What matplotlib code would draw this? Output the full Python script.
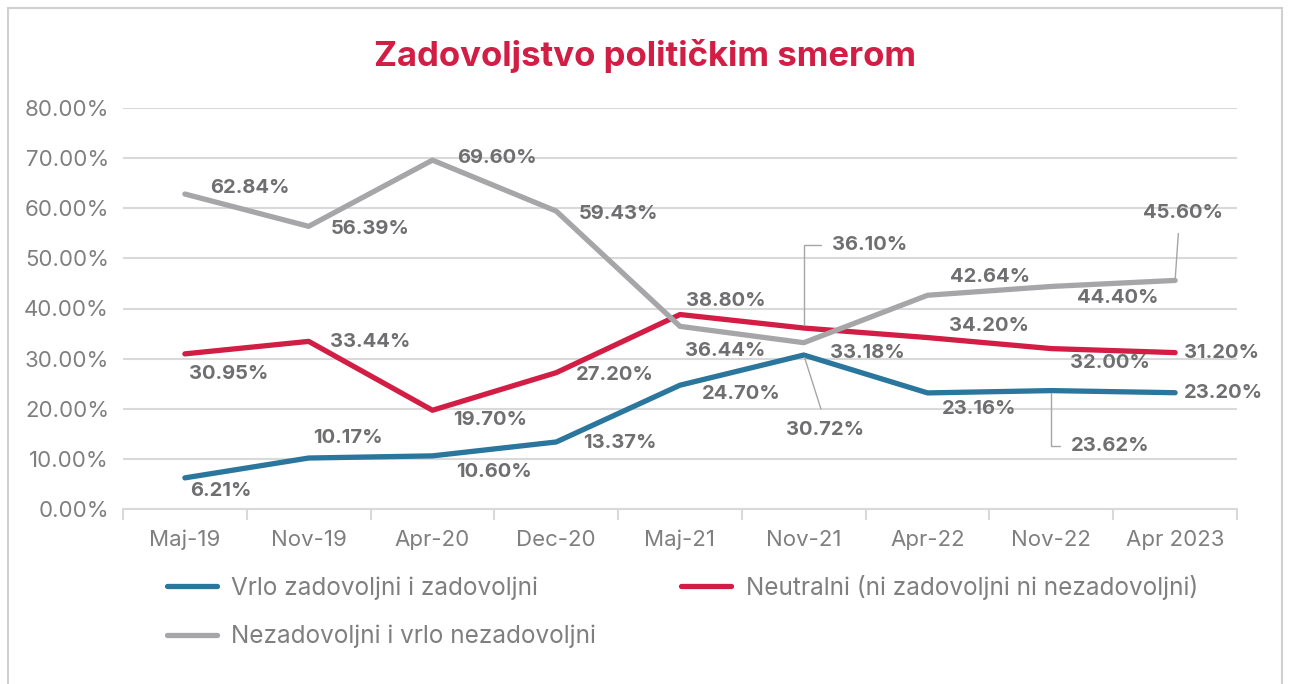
import matplotlib

matplotlib.use("Agg")
import matplotlib.pyplot as plt  # noqa: E402
from matplotlib.patches import Rectangle  # noqa: E402

periods = ["Maj-19", "Nov-19", "Apr-20", "Dec-20", "Maj-21", "Nov-21", "Apr-22", "Nov-22", "Apr 2023"]
satisfied = [6.21, 10.17, 10.60, 13.37, 24.70, 30.72, 23.16, 23.62, 23.20]
neutral = [30.95, 33.44, 19.70, 27.20, 38.80, 36.10, 34.20, 32.00, 31.20]
dissatisfied = [62.84, 56.39, 69.60, 59.43, 36.44, 33.18, 42.64, 44.40, 45.60]
names = ["Vrlo zadovoljni i zadovoljni",
         "Neutralni (ni zadovoljni ni nezadovoljni)",
         "Nezadovoljni i vrlo nezadovoljni"]
y_ticks = [0, 10, 20, 30, 40, 50, 60, 70, 80]
title = "Zadovoljstvo političkim smerom"

BLUE, RED, GREY = "#2a769c", "#d21d45", "#a6a6a9"
LABEL_C, TICK_C, GRID_C = "#6f6f71", "#7f7f7f", "#d9d9d9"
FONT = "Inter"

# label offsets in pixels (right, up) from each point
off_blue = [(36, -13), (39, 20), (62, -16), (64, -1), (61, -9), (21, -75), (52, -16), (59, -55), (48, 0)]
off_red = [(44, -20), (62, -1), (58, -10), (59, -2), (46, 14), (66, 83), (61, 12), (59, -14), (46, 0)]
off_grey = [(65, 6), (62, -3), (64, 2), (62, -3), (45, -25), (64, -10), (63, 18), (66, -12), (8, 67)]

# leader lines: (series, index) -> (relpos, connectionstyle, shrink at label)
leaders = {
    ("red", 5): ((0, 0.5), "angle,angleA=0,angleB=90,rad=0", 6),
    ("blue", 5): ((0.5, 1), "arc3,rad=0", 7),
    ("blue", 7): ((0, 0.5), "angle,angleA=0,angleB=90,rad=0", 6),
    ("grey", 8): ((0.45, 0), "arc3,rad=0", 6),
}

fig = plt.figure(figsize=(12.91, 6.84), dpi=100)
fig.patches.append(Rectangle((8 / 1291, -0.05), 1274 / 1291, 1.05 - 8 / 684, transform=fig.transFigure,
                             fill=False, edgecolor="#d0d0d0", lw=1.5))
ax = fig.add_axes([123 / 1291, 1 - 509 / 684, 1114 / 1291, 401 / 684])

x = list(range(len(periods)))
series = [("blue", satisfied, BLUE, off_blue),
          ("red", neutral, RED, off_red),
          ("grey", dissatisfied, GREY, off_grey)]
handles = []
for key, vals, col, offs in series:
    h, = ax.plot(x, vals, color=col, lw=3.8, solid_joinstyle="round", solid_capstyle="round", zorder=3)
    handles.append(h)
    for i, v in enumerate(vals):
        kw = {}
        if (key, i) in leaders:
            rel, cs, sa = leaders[(key, i)]
            kw["arrowprops"] = dict(arrowstyle="-", color="#a6a6a6", lw=1.0, relpos=rel,
                                    connectionstyle=cs, shrinkA=sa, shrinkB=2)
        ax.annotate(f"{v:.2f}%", (i, v), xytext=offs[i], textcoords="offset pixels",
                    ha="center", va="center", fontsize=14.5, fontweight="bold", color=LABEL_C,
                    family=FONT, zorder=4, **kw)

ax.set_xlim(-0.5, len(periods) - 0.5)
ax.set_ylim(0, 80)
ax.set_yticks(y_ticks)
ax.set_yticklabels([f"{t:.2f}%" for t in y_ticks], fontsize=16, color=TICK_C, family=FONT)
ax.tick_params(axis="y", length=0, pad=10)
ax.grid(axis="y", color=GRID_C, lw=1.5, zorder=0)
ax.set_xticks([i - 0.5 for i in range(len(periods) + 1)])
ax.set_xticklabels([])
ax.tick_params(axis="x", which="major", length=8, color=GRID_C, width=1.5, direction="out")
ax.set_xticks(x, minor=True)
ax.set_xticklabels(periods, minor=True, fontsize=16, color=TICK_C, family=FONT)
ax.tick_params(axis="x", which="minor", length=0, pad=15)
for s in ["top", "right", "left"]:
    ax.spines[s].set_visible(False)
ax.spines["bottom"].set_color(GRID_C)
ax.spines["bottom"].set_linewidth(1.5)

fig.text(0.5, 1 - 56 / 684, title, ha="center", va="center", fontsize=25, fontweight="bold",
         color=RED, family=FONT)

leg = fig.legend([handles[0], handles[2], handles[1]], [names[0], names[2], names[1]],
                 ncol=2, loc="upper left", bbox_to_anchor=(145 / 1291, 1 - 553 / 684),
                 frameon=False, prop={"family": FONT, "size": 17.5}, labelcolor=TICK_C,
                 handlelength=2.05, handletextpad=0.6, columnspacing=3.5, labelspacing=1.03)

fig.savefig("out.png", dpi=100)
